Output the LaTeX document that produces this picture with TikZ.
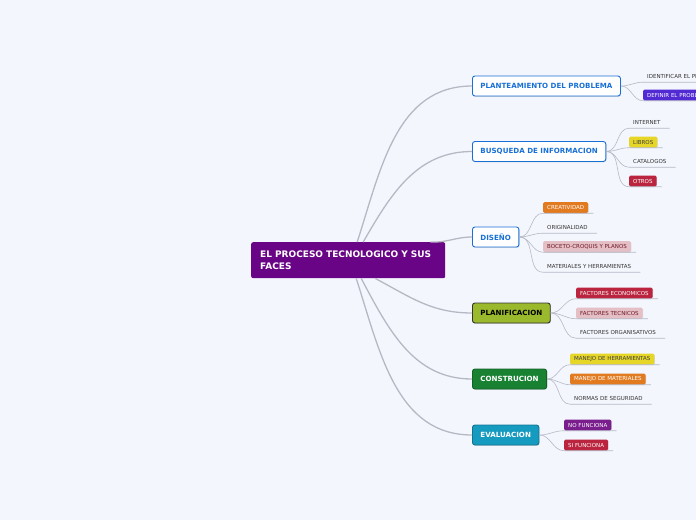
\documentclass[tikz,border=0pt]{standalone}
\usepackage{fontspec}
\setmainfont{DejaVu Sans}
\usetikzlibrary{positioning,shadows}
\definecolor{mmbg}{RGB}{244,246,254}
\definecolor{mmpurple}{RGB}{106,4,134}
\definecolor{mmblue}{RGB}{24,112,214}
\definecolor{mmolive}{RGB}{155,185,45}
\definecolor{mmgreen}{RGB}{25,130,50}
\definecolor{mmteal}{RGB}{22,155,192}
\definecolor{mmindigo}{RGB}{82,42,212}
\definecolor{mmyellow}{RGB}{230,214,40}
\definecolor{mmred}{RGB}{186,36,62}
\definecolor{mmorange}{RGB}{226,122,32}
\definecolor{mmpink}{RGB}{228,192,198}
\definecolor{mmplum}{RGB}{122,30,142}
\definecolor{mmgray}{RGB}{182,184,196}
\tikzset{
  rootnode/.style={fill=mmpurple, rounded corners=2pt, text=white, font=\fontsize{9}{11.5}\selectfont\bfseries,
                   text width=176pt, minimum height=36pt, inner xsep=9pt, align=left},
  mainnode/.style={draw=mmblue, fill=white, rounded corners=2.5pt, line width=0.9pt, text=mmblue,
                   font=\fontsize{7.1}{8.5}\selectfont\bfseries, minimum height=20pt, inner xsep=8pt,
                   drop shadow={shadow xshift=0.6pt, shadow yshift=-0.8pt, opacity=0.25}},
  colnode/.style={mainnode, draw=#1!75!black, fill=#1, text=white},
  leafbox/.style={fill=#1, rounded corners=1.5pt, text=white, font=\fontsize{5.5}{6.5}\selectfont,
                  minimum height=11pt, inner xsep=4pt, inner ysep=0pt,
                  drop shadow={shadow xshift=0.4pt, shadow yshift=-0.6pt, opacity=0.25}},
  leaftext/.style={font=\fontsize{5.5}{6.5}\selectfont, text=black!80, minimum height=11pt, inner xsep=4pt, inner ysep=0pt},
  branch/.style={draw=mmgray, line width=1.3pt},
  twig/.style={draw=mmgray, line width=0.6pt},
}
\begin{document}
\begin{tikzpicture}[x=1pt, y=-1pt]
\fill[mmbg] (0,0) rectangle (696,520);
\useasboundingbox (0,0) rectangle (696,520);

% Central topic
\node[rootnode, anchor=north west] (root) at (251,242) {EL PROCESO TECNOLOGICO Y SUS FACES};

% Main topics
\node[mainnode, anchor=west] (plant) at (472,86) {PLANTEAMIENTO DEL PROBLEMA};
\node[mainnode, anchor=west] (busq) at (472,151.5) {BUSQUEDA DE INFORMACION};
\node[mainnode, anchor=west] (dis) at (472,237) {DISEÑO};
\node[colnode=mmolive, anchor=west, text=black, draw=black!80] (planif) at (472,313) {PLANIFICACION};
\node[colnode=mmgreen, anchor=west] (constr) at (472,379) {CONSTRUCION};
\node[colnode=mmteal, anchor=west] (eval) at (472,435) {EVALUACION};

% Branches from the central topic
\coordinate (r1) at ([xshift=9pt]root.north);
\coordinate (r2) at ([xshift=15pt]root.north);
\coordinate (r3) at ([xshift=-15pt]root.north east);
\coordinate (r4) at ([xshift=27pt]root.south);
\coordinate (r5) at ([xshift=13pt]root.south);
\coordinate (r6) at ([xshift=8pt]root.south);
\draw[branch] (r1) to[out=72, in=180] (plant.west);
\draw[branch] (r2) to[out=60, in=180] (busq.west);
\draw[branch] (r3) to[out=-3, in=180] (dis.west);
\draw[branch] (r4) to[out=-28, in=180] (planif.west);
\draw[branch] (r5) to[out=-62, in=180] (constr.west);
\draw[branch] (r6) to[out=-72, in=180] (eval.west);

% Planteamiento del problema
\node[leaftext, anchor=west] (p1) at (643,76.5) {IDENTIFICAR EL PROBLEMA};
\node[leafbox=mmindigo, anchor=west] (p2) at (643,95) {DEFINIR EL PROBLEMA};

% Busqueda de informacion
\node[leaftext, anchor=west] (b1) at (629,122.5) {INTERNET};
\node[leafbox=mmyellow, anchor=west, text=black!75] (b2) at (629,142) {LIBROS};
\node[leaftext, anchor=west] (b3) at (629,161.5) {CATALOGOS};
\node[leafbox=mmred, anchor=west] (b4) at (629,181) {OTROS};

% Diseno
\node[leafbox=mmorange, anchor=west] (d1) at (543,207.5) {CREATIVIDAD};
\node[leaftext, anchor=west] (d2) at (543,227.5) {ORIGINALIDAD};
\node[leafbox=mmpink, anchor=west, text=mmred!60!black] (d3) at (543,246.5) {BOCETO-CROQUIS Y PLANOS};
\node[leaftext, anchor=west] (d4) at (543,266.5) {MATERIALES Y HERRAMIENTAS};

% Planificacion
\node[leafbox=mmred, anchor=west] (f1) at (576,293) {FACTORES ECONOMICOS};
\node[leafbox=mmpink, anchor=west, text=mmred!60!black] (f2) at (576,313) {FACTORES TECNICOS};
\node[leaftext, anchor=west] (f3) at (576,332.5) {FACTORES ORGANISATIVOS};

% Construcion
\node[leafbox=mmyellow, anchor=west, text=black!75] (c1) at (570,359) {MANEJO DE HERRAMIENTAS};
\node[leafbox=mmorange, anchor=west] (c2) at (570,379) {MANEJO DE MATERIALES};
\node[leaftext, anchor=west] (c3) at (570,398.5) {NORMAS DE SEGURIDAD};

% Evaluacion
\node[leafbox=mmplum, anchor=west] (e1) at (564,425) {NO FUNCIONA};
\node[leafbox=mmred, anchor=west] (e2) at (564,445) {SI FUNCIONA};

% Twigs to the subtopics
\foreach \m/\leaves in {plant/{p1,p2}, busq/{b1,b2,b3,b4}, dis/{d1,d2,d3,d4},
                        planif/{f1,f2,f3}, constr/{c1,c2,c3}, eval/{e1,e2}}{
  \foreach \l in \leaves{
    \draw[twig] (\m.east) to[out=0, in=180] (\l.south west) -- ([xshift=5pt]\l.south east);
  }
}
\end{tikzpicture}
\end{document}
